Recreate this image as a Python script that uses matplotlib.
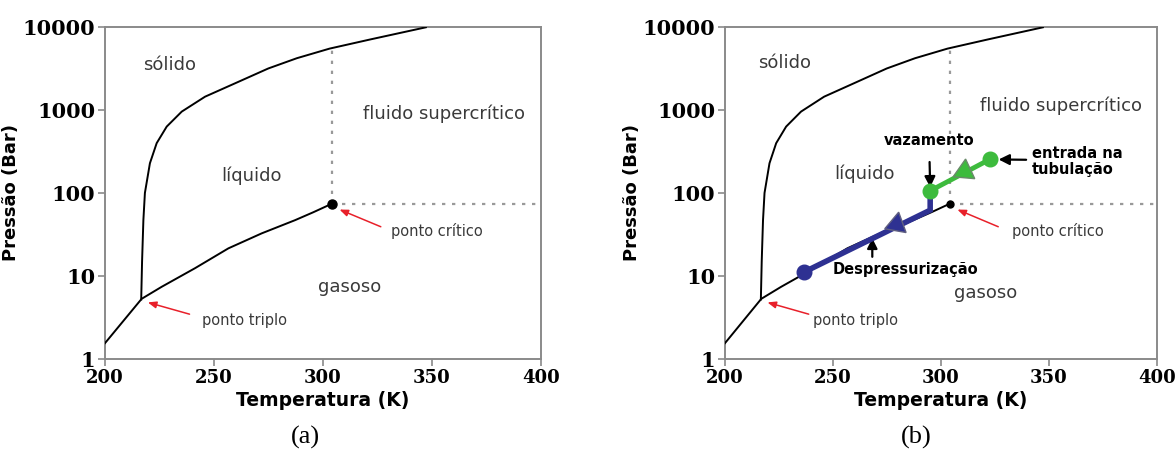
import numpy as np
import matplotlib.pyplot as plt

# --- phase boundaries of CO2 ---
melt_T = [216.6, 217.0, 217.6, 218.3, 220.6, 223.7, 228.3, 235.2, 245.9, 259.6, 274.9, 288.0, 303.0, 321.7, 347.2]
melt_P = [5.2, 15, 47, 100, 228, 398, 630, 955, 1445, 2090, 3160, 4200, 5480, 7070, 9900]

vap_T = [200.0, 216.8, 226.0, 241.3, 256.6, 271.9, 287.2, 295.6, 304.0]
vap_P = [1.55, 5.3, 7.4, 12.4, 21.5, 32.6, 47.0, 58.6, 74.0]

crit_T, crit_P = 304.0, 74.0
crit_line_top = 5550

# --- process path (panel b) ---
green_T = [322.5, 295.0]
green_P = [253, 106]
blue_T = [295.0, 295.0, 236.8]
blue_P = [106, 62, 11.2]
green_tri = (310.6, 185)
blue_tri = (279.0, 42)

x_ticks = [200, 250, 300, 350, 400]
y_ticks = [1, 10, 100, 1000, 10000]

labels = {
    "a": {"sólido": (229.8, 3460), "fluido supercrítico": (355.7, 910),
          "líquido": (267.2, 163), "gasoso": (312.3, 7.4),
          "crit_txt": (352.3, 34.7), "trip_txt": (263.8, 2.87)},
    "b": {"sólido": (227.5, 3630), "fluido supercrítico": (355.6, 1115),
          "líquido": (264.5, 170), "gasoso": (320.8, 6.2),
          "crit_txt": (353.9, 34.7), "trip_txt": (260.6, 2.87)},
}

GRAY_TXT = "#3a3a3a"
RED = "#e8202a"
SPINE = "#8a8a8a"


def draw_panel(ax, key):
    pos = labels[key]
    ax.set_yscale("log")
    ax.set_xlim(200, 400)
    ax.set_ylim(1, 10000)

    ax.plot(melt_T, melt_P, color="black", lw=1.4, zorder=3)
    ax.plot(vap_T, vap_P, color="black", lw=1.4, zorder=3)
    ax.plot([crit_T, crit_T], [crit_P, crit_line_top], color="#999999", ls=(0, (1.5, 3)), lw=1.6, zorder=2)
    ax.plot([crit_T, 400], [crit_P, crit_P], color="#999999", ls=(0, (1.5, 3)), lw=1.6, zorder=2)
    ax.plot([crit_T], [crit_P], "o", color="black", ms=6.5 if key == "a" else 5, zorder=4)

    for name in ["sólido", "fluido supercrítico", "líquido", "gasoso"]:
        ax.text(*pos[name], name, ha="center", va="center", fontsize=13, color=GRAY_TXT)

    ax.text(*pos["crit_txt"], "ponto crítico", ha="center", va="center", fontsize=10.5, color=GRAY_TXT)
    ax.text(*pos["trip_txt"], "ponto triplo", ha="center", va="center", fontsize=10.5, color=GRAY_TXT)

    ax.annotate("", xy=(306.4, 65), xytext=(327.7, 38),
                arrowprops=dict(arrowstyle="-|>,head_length=0.5,head_width=0.2", color=RED, lw=1.1))
    ax.annotate("", xy=(218.4, 4.9), xytext=(240, 3.39),
                arrowprops=dict(arrowstyle="-|>,head_length=0.5,head_width=0.2", color=RED, lw=1.1))

    ax.set_xticks(x_ticks)
    ax.set_yticks(y_ticks)
    ax.set_yticklabels([str(v) for v in y_ticks])
    ax.minorticks_off()
    for lab in ax.get_yticklabels():
        lab.set_fontfamily("DejaVu Serif")
        lab.set_fontweight("bold")
        lab.set_fontsize(15)
    for lab in ax.get_xticklabels():
        lab.set_fontfamily("DejaVu Serif")
        lab.set_fontweight("bold")
        lab.set_fontsize(13)
    ax.tick_params(length=5, width=1.2, color=SPINE, pad=2)
    ax.set_xlabel("Temperatura (K)", fontsize=13.5, fontweight="bold", labelpad=3)
    ax.set_ylabel("Pressão (Bar)", fontsize=13, fontweight="bold")
    ax.yaxis.set_label_coords(-0.195, 0.5)
    for side in ax.spines:
        ax.spines[side].set_color(SPINE)
        ax.spines[side].set_linewidth(1.4)


fig = plt.figure(figsize=(11.76, 4.59), dpi=100)
ax1 = fig.add_axes([0.0893, 0.218, 0.3707, 0.7233])
ax2 = fig.add_axes([0.6165, 0.218, 0.3673, 0.7233])

draw_panel(ax1, "a")
draw_panel(ax2, "b")

BLUE = "#2e3192"
GREEN = "#3dbb3d"
ax2.plot(blue_T, blue_P, color=BLUE, lw=4, solid_capstyle="butt", solid_joinstyle="miter", zorder=5)
ax2.plot(green_T, green_P, color=GREEN, lw=3.5, zorder=6)
ax2.plot([blue_T[-1]], [blue_P[-1]], "o", color=BLUE, ms=10.5, zorder=7)
ax2.plot(green_T, green_P, "o", color=GREEN, ms=10.5, ls="none", zorder=7)

# triangles marking direction of the path
ax2.plot([green_tri[0]], [green_tri[1]], marker=(3, 0, -5), color=GREEN, mec="#6a8a6a", mew=1,
         ms=18, zorder=8)
ax2.plot([blue_tri[0]], [blue_tri[1]], marker=(3, 0, -10), color=BLUE, mec="#606080", mew=1,
         ms=18, zorder=8)

black_arrow = dict(arrowstyle="-|>,head_length=0.6,head_width=0.3", color="black", lw=1.6)
ax2.annotate("vazamento", xy=(295, 117), xytext=(294.5, 427), ha="center", va="center",
             fontsize=10.5, fontweight="bold", arrowprops=dict(black_arrow, shrinkA=8, shrinkB=0))
ax2.annotate("entrada na\ntubulação", xy=(326.7, 253), xytext=(342, 240), ha="left", va="center",
             fontsize=10.5, fontweight="bold", linespacing=1.1,
             arrowprops=dict(black_arrow, shrinkA=2, shrinkB=0, relpos=(0, 0.55)))
ax2.annotate("", xy=(268.2, 28.5), xytext=(268.2, 17), arrowprops=dict(black_arrow, shrinkA=0, shrinkB=0))
ax2.text(283.5, 11.8, "Despressurização", ha="center", va="center", fontsize=10.5, fontweight="bold")

fig.text(0.2594, 0.048, "(a)", ha="center", va="center", fontsize=19, family="Liberation Serif")
fig.text(0.779, 0.048, "(b)", ha="center", va="center", fontsize=19, family="Liberation Serif")

fig.savefig("out.png", dpi=100)
